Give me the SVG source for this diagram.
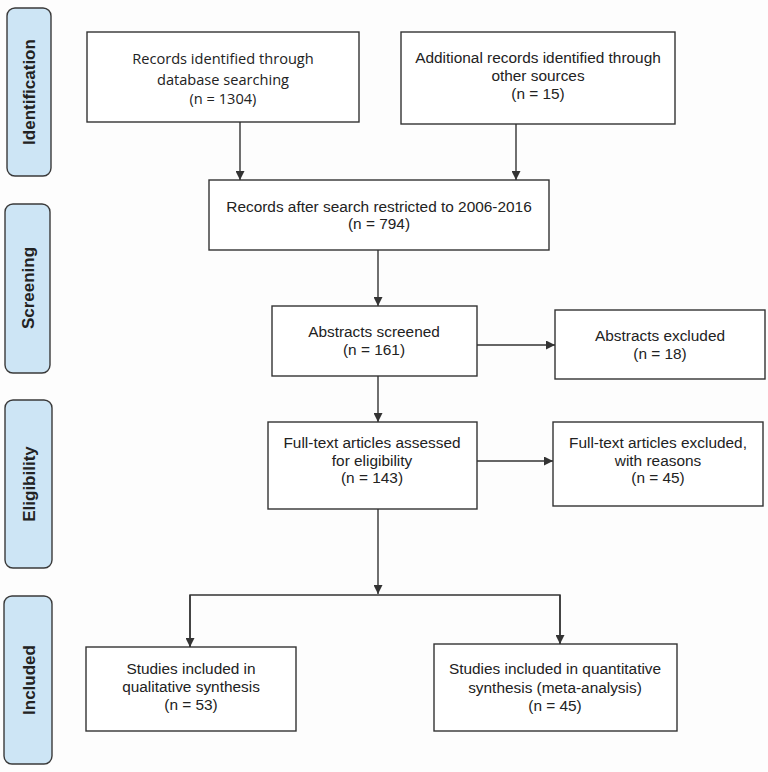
<svg xmlns="http://www.w3.org/2000/svg" width="768" height="772" viewBox="0 0 768 772">
<style>
.bg{fill:#fdfdfd}
.box{fill:#ffffff;stroke:#333;stroke-width:1.4}
.phase{fill:#cde5f5;stroke:#3a3a3a;stroke-width:1.4}
.t{font-family:"Liberation Sans",Arial,sans-serif;font-size:15.4px;fill:#222;text-anchor:middle}
.c{font-family:"Open Sans","Noto Sans",sans-serif;font-size:14.6px;fill:#222;text-anchor:middle}
.p{font-family:"Liberation Sans",Arial,sans-serif;font-size:17px;font-weight:bold;fill:#222;text-anchor:middle}
.ln{fill:none;stroke:#333;stroke-width:1.4}
</style>
<defs>
<marker id="ah" viewBox="0 0 10 10" refX="10" refY="5" markerWidth="9" markerHeight="9" markerUnits="userSpaceOnUse" orient="auto">
<path d="M0,0 L10,5 L0,10 Z" fill="#333"/>
</marker>
</defs>
<rect class="bg" x="0" y="0" width="768" height="772"/>
<g id="phase-identification">
<rect class="phase" x="7" y="8" width="44" height="168" rx="8"/>
<text class="p" transform="translate(35,92) rotate(-90)">Identification</text>
</g>
<g id="phase-screening">
<rect class="phase" x="5" y="204" width="45" height="169" rx="8"/>
<text class="p" transform="translate(34,288) rotate(-90)">Screening</text>
</g>
<g id="phase-eligibility">
<rect class="phase" x="5" y="400" width="47" height="168" rx="8"/>
<text class="p" transform="translate(35,484) rotate(-90)">Eligibility</text>
</g>
<g id="phase-included">
<rect class="phase" x="4" y="596" width="48" height="168" rx="8"/>
<text class="p" transform="translate(35,680) rotate(-90)">Included</text>
</g>
<g id="n-db">
<rect class="box" x="87" y="32" width="272" height="90"/>
<text class="c" x="223" y="64">Records identified through</text>
<text class="c" x="223" y="85">database searching</text>
<text class="c" x="223" y="104">(n = 1304)</text>
</g>
<g id="n-other">
<rect class="box" x="401" y="32" width="274" height="92"/>
<text class="t" x="538" y="63">Additional records identified through</text>
<text class="t" x="538" y="81">other sources</text>
<text class="t" x="538" y="99">(n = 15)</text>
</g>
<g id="n-restricted">
<rect class="box" x="209" y="180" width="340" height="70"/>
<text class="t" x="379" y="212">Records after search restricted to 2006-2016</text>
<text class="t" x="379" y="229">(n = 794)</text>
</g>
<g id="n-screened">
<rect class="box" x="272" y="306" width="205" height="70"/>
<text class="t" x="374" y="337">Abstracts screened</text>
<text class="t" x="374" y="355">(n = 161)</text>
</g>
<g id="n-absexcl">
<rect class="box" x="555" y="310" width="210" height="69"/>
<text class="t" x="660" y="341">Abstracts excluded</text>
<text class="t" x="660" y="359">(n = 18)</text>
</g>
<g id="n-fulltext">
<rect class="box" x="268" y="422" width="209" height="87"/>
<text class="t" x="372" y="448">Full-text articles assessed</text>
<text class="t" x="372" y="466">for eligibility</text>
<text class="t" x="372" y="483">(n = 143)</text>
</g>
<g id="n-ftexcl">
<rect class="box" x="553" y="422" width="210" height="84"/>
<text class="t" x="658" y="448">Full-text articles excluded,</text>
<text class="t" x="658" y="466">with reasons</text>
<text class="t" x="658" y="483">(n = 45)</text>
</g>
<g id="n-qual">
<rect class="box" x="86" y="647" width="210" height="84"/>
<text class="t" x="191" y="674">Studies included in</text>
<text class="t" x="191" y="692">qualitative synthesis</text>
<text class="t" x="191" y="710">(n = 53)</text>
</g>
<g id="n-quant">
<rect class="box" x="434" y="644" width="243" height="87"/>
<text class="t" x="555" y="674">Studies included in quantitative</text>
<text class="t" x="555" y="693">synthesis (meta-analysis)</text>
<text class="t" x="555" y="711">(n = 45)</text>
</g>
<g id="connectors">
<line class="ln" x1="240" y1="122" x2="240" y2="180" marker-end="url(#ah)"/>
<line class="ln" x1="516" y1="124" x2="516" y2="180" marker-end="url(#ah)"/>
<line class="ln" x1="378" y1="250" x2="378" y2="306" marker-end="url(#ah)"/>
<line class="ln" x1="477" y1="345" x2="555" y2="345" marker-end="url(#ah)"/>
<line class="ln" x1="378" y1="376" x2="378" y2="422" marker-end="url(#ah)"/>
<line class="ln" x1="477" y1="461" x2="553" y2="461" marker-end="url(#ah)"/>
<line class="ln" x1="378" y1="509" x2="378" y2="594" marker-end="url(#ah)"/>
<polyline class="ln" points="190,647 190,595 560,595 560,644"/>
<line class="ln" x1="190" y1="595" x2="190" y2="647" marker-end="url(#ah)"/>
<line class="ln" x1="560" y1="595" x2="560" y2="644" marker-end="url(#ah)"/>
</g>
</svg>
